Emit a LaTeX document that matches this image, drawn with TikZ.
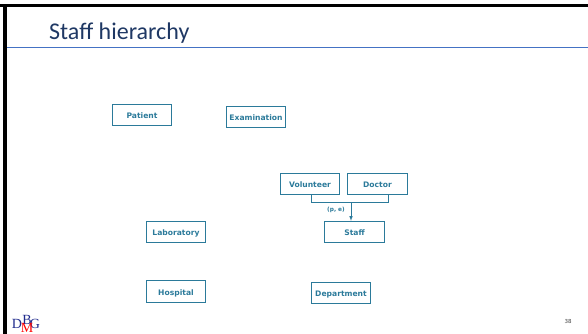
\documentclass[tikz,border=0pt]{standalone}
\usepackage{fontspec}
\setmainfont{DejaVu Sans}
\newfontfamily\titlefont{Carlito}
\newfontfamily\logofont{Liberation Serif}
\definecolor{boxteal}{HTML}{2B7A9A}
\definecolor{titleblue}{HTML}{1F3864}
\definecolor{ruleblue}{HTML}{4472C4}
\definecolor{logoblue}{HTML}{1F2A8C}
\tikzset{
  entity/.style={draw=boxteal,line width=0.9pt,minimum width=59.5pt,minimum height=21.5pt,inner sep=0pt,text height=7pt,text depth=0pt,text=boxteal,font=\fontsize{7.6}{9}\selectfont\bfseries},
  logo/.style={inner sep=0pt,text=logoblue,font=\fontsize{14}{14}\logofont}
}
\begin{document}
\begin{tikzpicture}[x=1pt,y=-1pt]
\useasboundingbox (0,0) rectangle (588,334);
\fill[black] (0,4) rectangle (588,7);
\fill[black] (3,4) rectangle (7,334);
\draw[ruleblue,line width=0.9pt] (7,47) -- (588,47);
\node[anchor=west,inner sep=0pt,text=titleblue,font=\fontsize{24}{28}\titlefont] (title) at (49,33) {Staff hierarchy};
\node[entity] (Patient) at (142,115) {Patient};
\node[entity] (Examination) at (256,117) {Examination};
\node[entity] (Volunteer) at (310,184) {Volunteer};
\node[entity] (Doctor) at (377.5,184) {Doctor};
\node[entity] (Staff) at (354.5,232) {Staff};
\node[entity] (Laboratory) at (176,232) {Laboratory};
\node[entity] (Hospital) at (176,291.5) {Hospital};
\node[entity] (Department) at (341,293) {Department};
\coordinate (joinL) at (311,202);
\coordinate (joinR) at (388,202);
\coordinate (joinM) at (351,202);
\draw[boxteal,line width=0.9pt] (joinL |- Volunteer.south) -- (joinL) -- (joinR) -- (joinR |- Doctor.south);
\draw[boxteal,line width=0.6pt,-latex] (joinM) -- (joinM |- Staff.north);
\node[inner sep=0pt,text=boxteal,font=\fontsize{5.8}{6}\selectfont\bfseries] (PE) at (336,210) {(p, e)};
\node[logo] (logoD) at (17,323.5) {D};
\node[logo] (logoB) at (27,319.5) {B};
\node[logo] (logoG) at (35,324) {G};
\node[logo,text=red] (logoM) at (27,327.5) {M};
\node[inner sep=0pt,text=black!75,font=\fontsize{5.5}{6}\selectfont] (page) at (568,321) {38};
\end{tikzpicture}
\end{document}
